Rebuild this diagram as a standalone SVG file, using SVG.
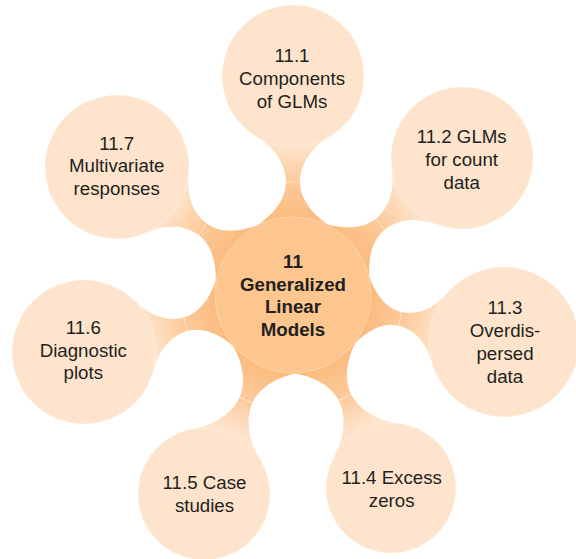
<svg xmlns="http://www.w3.org/2000/svg" width="576" height="559" viewBox="0 0 576 559">
<defs>
<linearGradient id="neck" gradientUnits="userSpaceOnUse" x1="76" y1="0" x2="150" y2="0">
<stop offset="0" stop-color="#FBBB7E"/>
<stop offset="0.5" stop-color="#FCCA9A"/>
<stop offset="1" stop-color="#FEE4CC"/>
</linearGradient>
</defs>
<style>
.neck{fill:url(#neck);stroke:none}
.seam{stroke:#fff;stroke-width:0.9;stroke-dasharray:1.6 1.2;fill:none}
.outer{fill:#FEE4CC;stroke:#fff;stroke-opacity:0.45;stroke-width:0.7}
.center{fill:#FCC68E;stroke:#fff;stroke-opacity:0.45;stroke-width:0.7}
text{font-family:"Liberation Sans",Arial,Helvetica,sans-serif;font-size:18.7px;fill:#231F20;text-anchor:middle}
.bold{font-weight:bold}
</style>
<g id="connectors">
<g transform="translate(293 295) rotate(-90)">
<path class="neck" d="M67,40 C78.3,21.1 95,7 113,7 C131,7 147.7,18.8 157.8,36 L157.8,-36 C147.7,-18.8 131,-7 113,-7 C95,-7 78.3,-21.1 67,-40 Z"/>
<line class="seam" x1="113" y1="-7" x2="113" y2="7"/>
</g>
<g transform="translate(293 295) rotate(-39.03)">
<path class="neck" d="M67,40 C78.3,21.1 94.3,7 112.3,7 C130.3,7 146.3,18.8 156.4,36 L156.4,-36 C146.3,-18.8 130.3,-7 112.3,-7 C94.3,-7 78.3,-21.1 67,-40 Z"/>
<line class="seam" x1="112.3" y1="-7" x2="112.3" y2="7"/>
</g>
<g transform="translate(293 295) rotate(12.56)">
<path class="neck" d="M67,40 C78.3,21.1 91.6,7 109.6,7 C127.6,7 140.8,18.5 150.4,36 L150.4,-36 C140.8,-18.5 127.6,-7 109.6,-7 C91.6,-7 78.3,-21.1 67,-40 Z"/>
<line class="seam" x1="109.6" y1="-7" x2="109.6" y2="7"/>
</g>
<g transform="translate(293 295) rotate(63.08)">
<path class="neck" d="M67,40 C78.3,21.1 96.8,7 114.8,7 C132.8,7 151.3,19.4 162.4,36 L162.4,-36 C151.3,-19.4 132.8,-7 114.8,-7 C96.8,-7 78.3,-21.1 67,-40 Z"/>
<line class="seam" x1="114.8" y1="-7" x2="114.8" y2="7"/>
</g>
<g transform="translate(293 295) rotate(114.1)">
<path class="neck" d="M67,40 C78.3,21.1 97,7 115,7 C133,7 151.8,19.2 162.7,36 L162.7,-36 C151.8,-19.2 133,-7 115,-7 C97,-7 78.3,-21.1 67,-40 Z"/>
<line class="seam" x1="115" y1="-7" x2="115" y2="7"/>
</g>
<g transform="translate(293 295) rotate(164.74)">
<path class="neck" d="M67,40 C78.3,21.1 93.3,7 111.3,7 C129.3,7 144.2,18.7 154.2,36 L154.2,-36 C144.2,-18.7 129.3,-7 111.3,-7 C93.3,-7 78.3,-21.1 67,-40 Z"/>
<line class="seam" x1="111.3" y1="-7" x2="111.3" y2="7"/>
</g>
<g transform="translate(293 295) rotate(-143.97)">
<path class="neck" d="M67,40 C78.3,21.1 93.8,7 111.8,7 C129.8,7 145.2,18.7 155.2,36 L155.2,-36 C145.2,-18.7 129.8,-7 111.8,-7 C93.8,-7 78.3,-21.1 67,-40 Z"/>
<line class="seam" x1="111.8" y1="-7" x2="111.8" y2="7"/>
</g>
</g>
<g id="n11">
<circle class="center" cx="293" cy="295" r="78"/>
<text class="bold" x="293" y="268.3">11</text>
<text class="bold" x="293" y="291">Generalized</text>
<text class="bold" x="293" y="313.3">Linear</text>
<text class="bold" x="293" y="335.7">Models</text>
</g>
<g id="n11_1">
<circle class="outer" cx="293" cy="76" r="71"/>
<text x="292" y="62.3">11.1</text>
<text x="292" y="85">Components</text>
<text x="292" y="108">of GLMs</text>
</g>
<g id="n11_2">
<circle class="outer" cx="462" cy="158" r="71"/>
<text x="461.7" y="143.3">11.2 GLMs</text>
<text x="461.7" y="166">for count</text>
<text x="461.7" y="189">data</text>
</g>
<g id="n11_3">
<circle class="outer" cx="504" cy="342" r="75"/>
<text x="505" y="313.5">11.3</text>
<text x="505" y="336.5">Overdis-</text>
<text x="505" y="359.5">persed</text>
<text x="505" y="382.5">data</text>
</g>
<g id="n11_4">
<circle class="outer" cx="391" cy="488" r="65"/>
<text x="391.7" y="484.3">11.4 Excess</text>
<text x="391.7" y="506.7">zeros</text>
</g>
<g id="n11_5">
<circle class="outer" cx="204" cy="494" r="66"/>
<text x="204.5" y="489.3">11.5 Case</text>
<text x="204.5" y="511.7">studies</text>
</g>
<g id="n11_6">
<circle class="outer" cx="84" cy="352" r="72"/>
<text x="83.3" y="334">11.6</text>
<text x="83.3" y="356.7">Diagnostic</text>
<text x="83.3" y="379.3">plots</text>
</g>
<g id="n11_7">
<circle class="outer" cx="117" cy="167" r="72"/>
<text x="116.7" y="149.5">11.7</text>
<text x="116.7" y="172.3">Multivariate</text>
<text x="116.7" y="195">responses</text>
</g>
</svg>
